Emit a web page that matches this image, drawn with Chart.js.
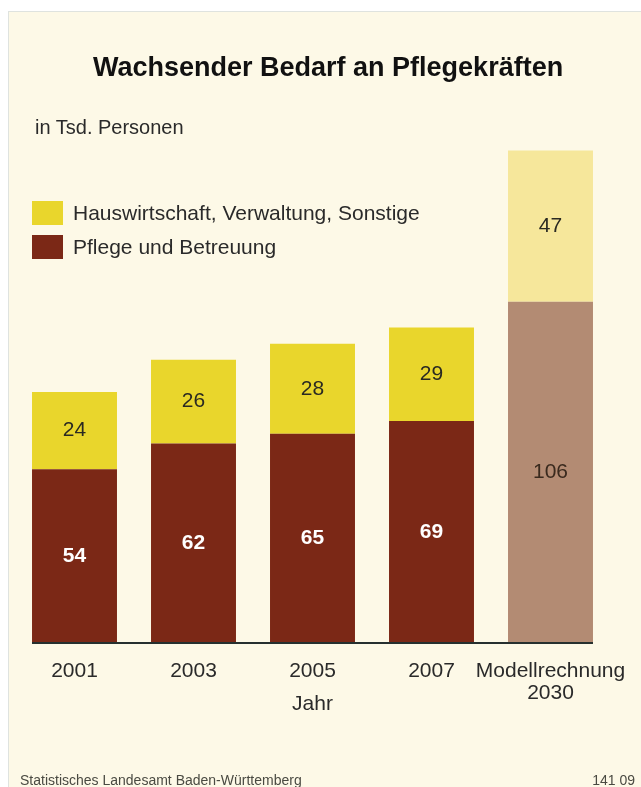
<!DOCTYPE html>
<html lang="de">
<head>
<meta charset="utf-8">
<title>Wachsender Bedarf an Pflegekräften</title>
<script src="https://cdn.jsdelivr.net/npm/chart.js@4.4.1/dist/chart.umd.min.js"></script>
<style>
	html, body {
		margin: 0;
		padding: 0;
		background: #ffffff;
		font-family: "Liberation Sans", Arial, sans-serif;
	}
	.panel {
		position: absolute;
		left: 8px;
		top: 11px;
		width: 633px;
		height: 776px;
		background: #fdf9e7;
		border-top: 1px solid #dfe3df;
		border-left: 1px solid #dfe3df;
	}
	#pflege_chart {
		position: absolute;
		left: 0;
		top: 0;
	}
	.chart-title {
		position: absolute;
		left: 93px;
		top: 54px;
		font-size: 27px;
		line-height: 27px;
		font-weight: bold;
		color: #111;
		white-space: nowrap;
	}
	.chart-unit {
		position: absolute;
		left: 35px;
		top: 117px;
		font-size: 20px;
		line-height: 20px;
		color: #2a2a2a;
	}
	#pflege_legend {
		position: absolute;
		left: 32px;
		top: 201px;
	}
	.chart-labels-list {
		list-style: none;
		margin: 0;
		padding: 0;
	}
	.chart-labels-list li {
		display: flex;
		align-items: center;
		height: 24px;
		margin-bottom: 10px;
	}
	.chart-label-icon {
		display: inline-block;
		width: 31px;
		height: 24px;
		margin-right: 10px;
	}
	.chart-label {
		font-size: 21px;
		line-height: 24px;
		color: #2a2a2a;
		white-space: nowrap;
	}
	.footer {
		position: absolute;
		top: 773px;
		font-size: 14px;
		line-height: 14px;
		color: #4a4a42;
	}
</style>
</head>
<body>
<div class="panel"></div>
<canvas id="pflege_chart" width="641" height="787"></canvas>
<div class="chart-title">Wachsender Bedarf an Pflegekräften</div>
<div class="chart-unit">in Tsd. Personen</div>
<div id="pflege_legend"></div>
<div class="footer" style="left:20px">Statistisches Landesamt Baden-Württemberg</div>
<div class="footer" style="right:6px">141 09</div>

<script>
var years = ['2001', '2003', '2005', '2007', ['Modellrechnung', '2030']],
	labels = ['Pflege und Betreuung', 'Hauswirtschaft, Verwaltung, Sonstige'],
	pflege = [54, 62, 65, 69, 106],
	hauswirtschaft = [24, 26, 28, 29, 47],
	// last column is the projection and gets the paler shades
	brown = ['#7b2816', '#7b2816', '#7b2816', '#7b2816', '#b38b73'],
	yellow = ['#e9d62c', '#e9d62c', '#e9d62c', '#e9d62c', '#f6e79b'],
	valueColors = [
		['#ffffff', '#ffffff', '#ffffff', '#ffffff', '#3a2a1e'],
		['#2a2a22', '#2a2a22', '#2a2a22', '#2a2a22', '#2a2a22']
	],
	valueWeights = [
		['bold', 'bold', 'bold', 'bold', 'normal'],
		['normal', 'normal', 'normal', 'normal', 'normal']
	];

// numbers in the middle of each segment plus the base line under the bars
var valuesPlugin = {
	id: 'segmentValues',
	afterDatasetsDraw: function(chart) {
		const ctx = chart.ctx;
		let first = null, last = null;

		ctx.save();
		ctx.textAlign = 'center';
		ctx.textBaseline = 'middle';

		chart.data.datasets.forEach(function(ds, d) {
			const meta = chart.getDatasetMeta(d);
			meta.data.forEach(function(bar, i) {
				ctx.font = valueWeights[d][i] + ' 21px "Liberation Sans", Arial, sans-serif';
				ctx.fillStyle = valueColors[d][i];
				ctx.fillText(ds.data[i], bar.x, (bar.y + bar.base) / 2);

				if (first === null || bar.x < first.x) first = bar;
				if (last === null || bar.x > last.x) last = bar;
			});
		});

		const base = chart.scales.y.getPixelForValue(0);
		ctx.beginPath();
		ctx.strokeStyle = '#26302f';
		ctx.lineWidth = 2;
		ctx.moveTo(first.x - first.width / 2, base);
		ctx.lineTo(last.x + last.width / 2, base);
		ctx.stroke();
		ctx.restore();
	}
};

// first dataset sits at the bottom of each stack
var dataChart = {
		labels: years,
		datasets: [{
			label: labels[0],
			data: pflege,
			backgroundColor: brown
		}, {
			label: labels[1],
			data: hauswirtschaft,
			backgroundColor: yellow
		}]
	},
	config = {
		type: 'bar',
		data: dataChart,
		plugins: [valuesPlugin],
		options: {
			responsive: false,
			animation: false,
			barPercentage: 0.714,
			categoryPercentage: 1,
			layout: {
				padding: { left: 15, right: 31, top: 128, bottom: 64 }
			},
			scales: {
				x: {
					stacked: true,
					grid: { display: false, drawTicks: false },
					border: { display: false },
					ticks: {
						color: '#2a2a2a',
						padding: 17,
						maxRotation: 0,
						autoSkip: false,
						font: { family: '"Liberation Sans", Arial, sans-serif', size: 21, lineHeight: 1.05 }
					},
					title: {
						display: true,
						text: 'Jahr',
						color: '#2a2a2a',
						padding: { top: 0, bottom: 6 },
						font: { family: '"Liberation Sans", Arial, sans-serif', size: 21 }
					},
					afterFit: function(scale) {
						// fixed axis height; the long last label may overhang the plot area
						scale.height = 80;
						scale.paddingLeft = 0;
						scale.paddingRight = 0;
					}
				},
				y: {
					display: false,
					stacked: true,
					min: 0,
					max: 160
				}
			},
			plugins: {
				legend: { display: false },
				tooltip: { enabled: false }
			}
		}
	};

// legend on the page, top segment listed first
var text = [];
text.push('<ul class="chart-labels-list">');
dataChart.datasets.slice().reverse().forEach(function(ds) {
	text.push(`<li><span class="chart-label-icon" style="background-color:${ds.backgroundColor[0]}"></span><span class="chart-label">${ds.label}</span></li>`);
});
text.push('</ul>');
document.getElementById('pflege_legend').innerHTML = text.join('');

let pflege_chart_ctx = document.getElementById('pflege_chart');
if (pflege_chart_ctx !== null) {
	pflege_chart_ctx = pflege_chart_ctx.getContext('2d');
	new Chart(pflege_chart_ctx, config);
}
</script>
</body>
</html>
